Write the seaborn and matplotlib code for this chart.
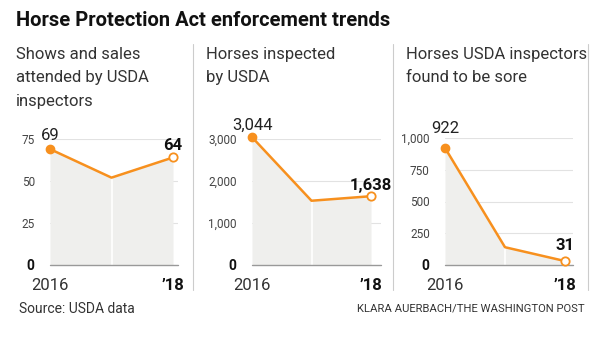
import matplotlib
matplotlib.use("Agg")
import matplotlib.pyplot as plt
import seaborn as sns
import pandas as pd

sns.set_theme(style="white")
plt.rcParams['font.family'] = ['Roboto', 'DejaVu Sans']

years = [2016, 2017, 2018]
shows = [69, 52, 64]
inspected = [3044, 1530, 1638]
sore = [922, 140, 31]

titles = ["Shows and sales\nattended by USDA\ninspectors",
          "Horses inspected\nby USDA",
          "Horses USDA inspectors\nfound to be sore"]
yticks_list = [[0, 25, 50, 75], [0, 1000, 2000, 3000], [0, 250, 500, 750, 1000]]
ytick_labels = [["0", "25", "50", "75"], ["0", "1,000", "2,000", "3,000"],
                ["0", "250", "500", "750", "1,000"]]
start_labels = ["69", "3,044", "922"]
end_labels = ["64", "1,638", "31"]
xlabels = ["2016", "\u201918"]

ORANGE = "#f7901e"
W, H = 600, 338
fig = plt.figure(figsize=(6, 3.38), dpi=100)

layout = [(50, 178, 173), (252, 381, 371), (445, 573, 565)]
top_px = [139, 139, 138]
bottom_px = 265
label_off = [(14, 12), (12, 11), (19, 16)]
series = [shows, inspected, sore]
title_x = [16, 206, 406]

for i in range(3):
    l, r, x18 = layout[i]
    ax = fig.add_axes([l / W, 1 - bottom_px / H, (r - l) / W, (bottom_px - top_px[i]) / H])
    df = pd.DataFrame({"year": years, "value": series[i]})
    ymax = yticks_list[i][-1]
    span = 2 * (r - l) / (x18 - l)
    ax.set_xlim(2016, 2016 + span)
    ax.set_ylim(0, ymax)
    ax.fill_between(df["year"], 0, df["value"], color="#efefed", lw=0, zorder=1,
                    clip_on=False)
    ax.plot([2017, 2017], [0, series[i][1]], color="white", lw=1.2, zorder=2)
    for yt in yticks_list[i][1:]:
        ax.axhline(yt, color="#e2e2e2", lw=0.8, zorder=0)
    ax.axhline(0, color="#999999", lw=1.0, zorder=3, clip_on=False)
    sns.lineplot(data=df, x="year", y="value", ax=ax, color=ORANGE, lw=1.8,
                 zorder=4, clip_on=False)
    ax.plot(2016, series[i][0], "o", color=ORANGE, ms=6, zorder=5, clip_on=False)
    ax.plot(2018, series[i][2], "o", mfc="white", mec=ORANGE, mew=1.3, ms=6,
            zorder=5, clip_on=False)
    ax.annotate(start_labels[i], (2016, series[i][0]), xytext=(0, label_off[i][0]),
                textcoords="offset pixels", ha="center", va="center",
                fontsize=12, color="#222222", annotation_clip=False)
    ax.annotate(end_labels[i], (2018, series[i][2]), xytext=(0, label_off[i][1]),
                textcoords="offset pixels", ha="center", va="center",
                fontsize=12, color="#111111", fontweight="bold", annotation_clip=False)
    ax.set_yticks(yticks_list[i])
    ax.set_yticklabels(ytick_labels[i], fontsize=8.5, color="#444444")
    ax.get_yticklabels()[0].set_fontweight("bold")
    ax.get_yticklabels()[0].set_color("#111111")
    ax.get_yticklabels()[0].set_fontsize(10)
    ax.set_xticks([2016, 2018])
    ax.set_xticklabels(xlabels, fontsize=12, color="#333333")
    ax.get_xticklabels()[1].set_fontweight("bold")
    ax.get_xticklabels()[1].set_color("#111111")
    ax.tick_params(axis="x", length=0, pad=9)
    ax.tick_params(axis="y", length=0, pad=11)
    ax.set_xlabel("")
    ax.set_ylabel("")
    for s in ax.spines.values():
        s.set_visible(False)
    ax.set_facecolor("none")
    fig.text(title_x[i] / W, 1 - 47 / H, titles[i], fontsize=12, color="#333333",
             va="top", ha="left", linespacing=1.7)

for xs in [193, 393, 588]:
    fig.add_artist(plt.Line2D([xs / W, xs / W], [1 - 44 / H, 1 - 290 / H],
                              color="#cccccc", lw=0.8))

fig.text(16 / W, 1 - 20 / H, "Horse Protection Act enforcement trends",
         fontsize=14.5, fontweight="bold", color="#111111", va="center", ha="left")
fig.text(19 / W, 1 - 309 / H, "Source: USDA data", fontsize=10, color="#333333",
         va="center", ha="left")
fig.text(585 / W, 1 - 309 / H, "KLARA AUERBACH/THE WASHINGTON POST", fontsize=8.1,
         color="#333333", va="center", ha="right")

fig.savefig("out.png", dpi=100, facecolor="white")
